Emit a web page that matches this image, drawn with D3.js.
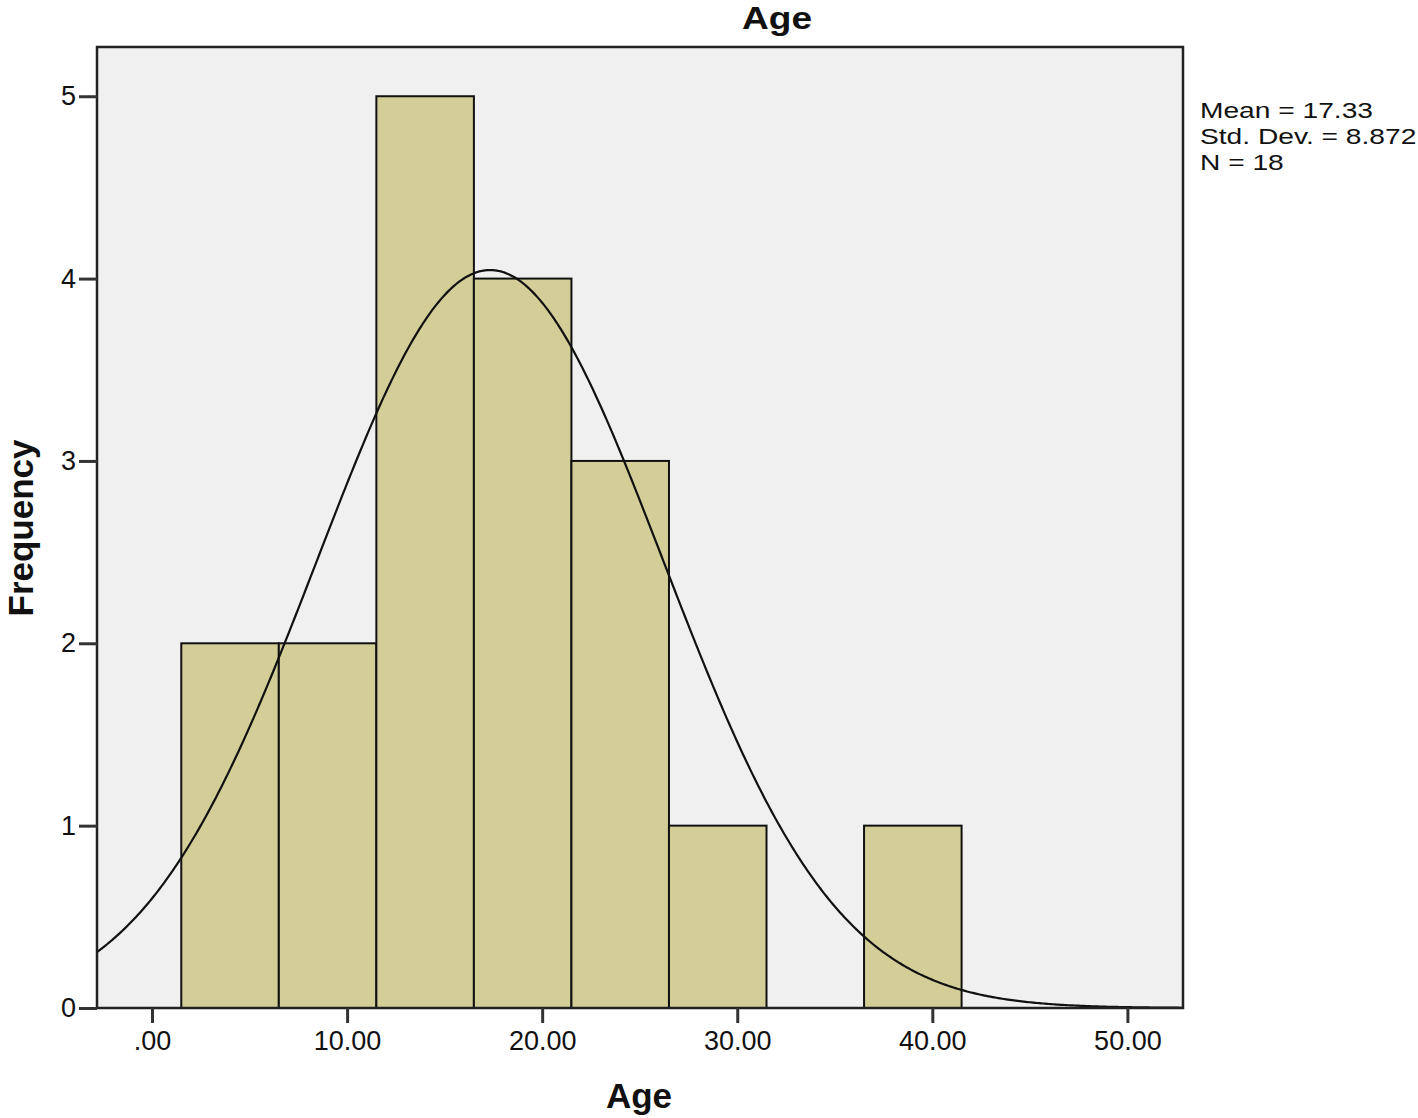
<!DOCTYPE html>
<html>
<head>
<meta charset="utf-8">
<script src="https://cdn.jsdelivr.net/npm/d3@7"></script>
<style>
  body { margin: 0; background: #fff; }
  svg text { font-family: "Liberation Sans", Arial, sans-serif; fill: #111; }
</style>
</head>
<body>
<svg id="chart" width="1418" height="1118"></svg>
<script>
// bins of Age (start, end) and their counts
const binStarts = [1.5, 6.5, 11.5, 16.5, 21.5, 26.5, 31.5, 36.5];
const binEnds   = [6.5, 11.5, 16.5, 21.5, 26.5, 31.5, 36.5, 41.5];
const counts    = [2, 2, 5, 4, 3, 1, 0, 1];

const xTicks = [0, 10, 20, 30, 40, 50];
const yTicks = [0, 1, 2, 3, 4, 5];
const statLabels = ['Mean = 17.33', 'Std. Dev. = 8.872', 'N = 18'];
const mean = 17.33, sd = 8.872, n = 18, binWidth = 5;

const svg = d3.select('#chart');

const plotLeft = 97, plotRight = 1183, plotTop = 47, plotBottom = 1008;

const x = d3.scaleLinear()
  .domain([-2.82, 52.85])
  .range([plotLeft, plotRight]);

const y = d3.scaleLinear()
  .domain([0, 5.27])
  .range([plotBottom, plotTop]);

// plot background
svg.append('rect')
  .attr('x', plotLeft).attr('y', plotTop)
  .attr('width', plotRight - plotLeft).attr('height', plotBottom - plotTop)
  .attr('fill', '#f0f0f0');

// bars
const bins = binStarts.map((s, i) => ({ s: s, e: binEnds[i], c: counts[i] }));
svg.append('g')
  .selectAll('rect')
  .data(bins.filter(d => d.c > 0))
  .join('rect')
  .attr('x', d => x(d.s))
  .attr('y', d => y(d.c))
  .attr('width', d => x(d.e) - x(d.s))
  .attr('height', d => y(0) - y(d.c))
  .attr('fill', '#d3ce97')
  .attr('stroke', '#111')
  .attr('stroke-width', 2);

// normal curve scaled to counts
const pdf = v => Math.exp(-0.5 * ((v - mean) / sd) ** 2) / (sd * Math.sqrt(2 * Math.PI));
const curvePts = d3.range(x.domain()[0], x.domain()[1], 0.1).map(v => [v, n * binWidth * pdf(v)]);
svg.append('path')
  .datum(curvePts)
  .attr('fill', 'none')
  .attr('stroke', '#111')
  .attr('stroke-width', 2.2)
  .attr('d', d3.line().x(d => x(d[0])).y(d => y(d[1])));

// frame
svg.append('rect')
  .attr('x', plotLeft).attr('y', plotTop)
  .attr('width', plotRight - plotLeft).attr('height', plotBottom - plotTop)
  .attr('fill', 'none')
  .attr('stroke', '#222')
  .attr('stroke-width', 2.5);

// axes
const xAxis = svg.append('g')
  .attr('transform', `translate(0,${plotBottom})`)
  .call(d3.axisBottom(x).tickValues(xTicks).tickSize(15).tickPadding(8)
    .tickFormat(d => d === 0 ? '.00' : d3.format('.2f')(d)));
const yAxis = svg.append('g')
  .attr('transform', `translate(${plotLeft},0)`)
  .call(d3.axisLeft(y).tickValues(yTicks).tickSize(18).tickPadding(3)
    .tickFormat(d3.format('d')));

[xAxis, yAxis].forEach(g => {
  g.select('.domain').remove();
  g.selectAll('line').attr('stroke', '#333').attr('stroke-width', 3);
  g.selectAll('text').style('font-size', '27px').attr('fill', '#111');
});

// titles
svg.append('text')
  .attr('x', 777).attr('y', 29)
  .attr('text-anchor', 'middle')
  .style('font-size', '32px').style('font-weight', 'bold')
  .attr('textLength', 70).attr('lengthAdjust', 'spacingAndGlyphs')
  .text('Age');

svg.append('text')
  .attr('x', 639).attr('y', 1108)
  .attr('text-anchor', 'middle')
  .style('font-size', '35px').style('font-weight', 'bold')
  .text('Age');

svg.append('text')
  .attr('transform', 'translate(33,528) rotate(-90)')
  .attr('text-anchor', 'middle')
  .style('font-size', '35px').style('font-weight', 'bold')
  .text('Frequency');

// stats box text, a bit wider than the plain font like the original
svg.append('g')
  .selectAll('text')
  .data(statLabels)
  .join('text')
  .attr('x', 1200)
  .attr('y', (d, i) => 118 + i * 26)
  .style('font-size', '22px')
  .text(d => d)
  .each(function () {
    const w = this.getComputedTextLength();
    d3.select(this).attr('textLength', w * 1.28).attr('lengthAdjust', 'spacingAndGlyphs');
  });
</script>
</body>
</html>
